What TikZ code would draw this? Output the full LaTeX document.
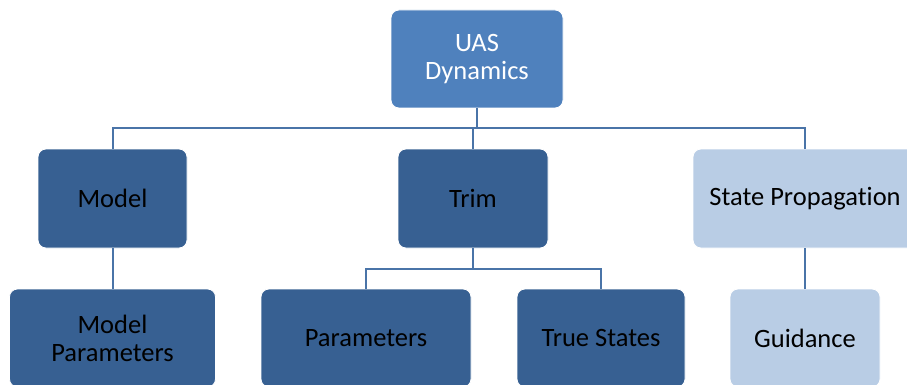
\documentclass[tikz,border=0pt]{standalone}
\usepackage{fontspec}
\setmainfont[Ligatures=NoCommon]{Carlito}
\definecolor{topblue}{HTML}{4F81BD}
\definecolor{darkblue}{HTML}{376092}
\definecolor{paleblue}{HTML}{B9CDE5}
\definecolor{wireblue}{HTML}{4A74A8}
\begin{document}
\begin{tikzpicture}[x=1pt,y=-1pt,
  box/.style={draw=white, line width=0.8pt, rounded corners=8pt, inner sep=0pt,
    align=center, font=\fontsize{26.5}{28}\selectfont},
  topbox/.style={box, fill=topblue, text=white},
  darkbox/.style={box, fill=darkblue, text=black},
  palebox/.style={box, fill=paleblue, text=black},
  wire/.style={draw=wireblue, line width=2pt}]
\useasboundingbox (0,0) rectangle (907,385);
\clip (0,0) rectangle (907,385);

% level 0
\node[topbox, minimum width=172pt, minimum height=98pt] (uas) at (477,59) {UAS\\Dynamics};

% level 1
\node[darkbox, minimum width=149pt, minimum height=99pt] (model) at (112.5,198.5) {Model};
\node[darkbox, minimum width=150pt, minimum height=99pt] (trim) at (473,198.5) {Trim};
\node[palebox, minimum width=224pt, minimum height=99pt] (sp) at (805,198.5) {State Propagation};

% level 2
\node[darkbox, minimum width=206pt, minimum height=98pt] (mpar) at (112.5,338) {Model\\Parameters};
\node[darkbox, minimum width=210pt, minimum height=98pt] (par) at (366,338) {Parameters};
\node[darkbox, minimum width=168pt, minimum height=98pt] (ts) at (601,338) {True States};
\node[palebox, minimum width=150pt, minimum height=98pt] (guid) at (805,338) {Guidance};

% connectors
\coordinate (bus) at (477,128);
\coordinate (tbus) at (473,269);
\draw[wire] (uas.south) -- (uas.south |- bus);
\draw[wire] (model.north) |- (bus) -| (sp.north);
\draw[wire] (trim.north) -- (trim.north |- bus);
\draw[wire] (model.south) -- (mpar.north);
\draw[wire] (trim.south) -- (tbus);
\draw[wire] (par.north) |- (tbus) -| (ts.north);
\draw[wire] (sp.south) -- (guid.north);
\end{tikzpicture}
\end{document}
